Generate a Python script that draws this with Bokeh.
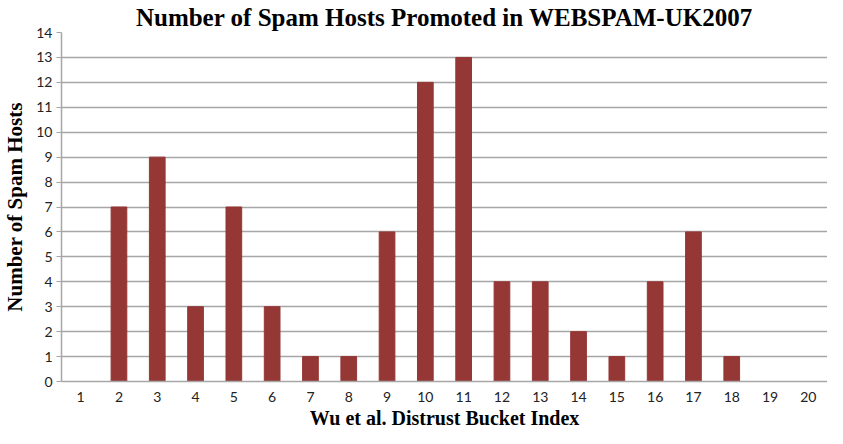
from bokeh.plotting import figure
from bokeh.models import Range1d, SingleIntervalTicker, Title
from bokeh.embed import file_html
from bokeh.resources import INLINE

# bucket index vs number of spam hosts promoted
buckets = [str(i) for i in range(1, 21)]
hosts = [0, 7, 9, 3, 7, 3, 1, 1, 6, 12, 13, 4, 4, 2, 1, 4, 6, 1, 0, 0]

p = figure(x_range=buckets, y_range=Range1d(0, 14),
           width=827, height=428,
           title="Number of Spam Hosts Promoted in WEBSPAM-UK2007",
           output_backend="svg", toolbar_location=None,
           min_border_left=40, min_border_right=0, min_border_top=0, min_border_bottom=0)

p.vbar(x=buckets, top=hosts, width=0.41, color="#953735")

p.title.align = "center"
p.title.text_font = "Liberation Serif"
p.title.text_font_size = "25px"
p.title.text_font_style = "bold"
p.title.text_color = "black"
p.title.standoff = 3

# x axis label as a title under the axis (tighter than axis_label)
xlab = Title(text="Wu et al. Distrust Bucket Index", align="center",
             text_font="Liberation Serif", text_font_size="20px",
             text_font_style="bold", text_color="black", standoff=0)
p.add_layout(xlab, "below")

p.outline_line_color = None
p.xgrid.grid_line_color = None
p.ygrid.grid_line_color = "#a6a6a6"
p.ygrid.grid_line_width = 1.5

p.yaxis.ticker = SingleIntervalTicker(interval=1)
p.yaxis.axis_label = "Number of Spam Hosts"

for ax in (p.xaxis, p.yaxis):
    ax.axis_label_text_font = "Liberation Serif"
    ax.axis_label_text_font_style = "bold"
    ax.axis_label_text_color = "black"
    ax.major_label_text_font = "Lato"
    ax.major_label_text_font_size = "14px"
    ax.major_label_text_color = "#222222"
    ax.axis_line_color = "#a6a6a6"
    ax.axis_line_width = 1.5
    ax.minor_tick_line_color = None

p.yaxis.axis_label_text_font_size = "21px"
p.yaxis.major_tick_line_color = "#a6a6a6"
p.yaxis.major_tick_in = 0
p.yaxis.major_tick_out = 5
p.yaxis.axis_label_standoff = 6
p.yaxis.major_label_standoff = 4
p.xaxis.major_tick_line_color = None
p.xaxis.major_tick_out = 0
p.xaxis.major_label_standoff = 10

open("out.html", "w").write(file_html(p, INLINE))
